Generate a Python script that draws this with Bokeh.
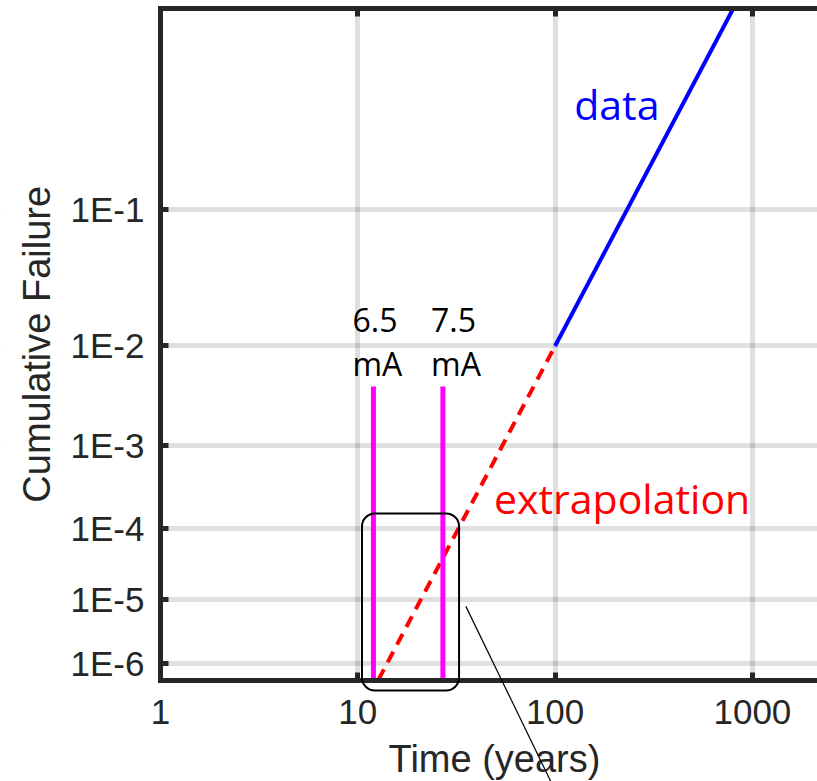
import math
from bokeh.plotting import figure
from bokeh.models import (FixedTicker, LogAxis, LinearAxis, Label, BoxAnnotation,
                          Arrow, Range1d)
from bokeh.embed import file_html
from bokeh.resources import INLINE

# ---------------- data ----------------
data_t = [100, 800]              # years
data_F = [0.01, 0.6]             # cumulative failure
extrap_t = [12.7, 100]
extrap_F = [5.3e-7, 0.01]
current_t = [12.0, 27.0]         # 6.5 mA, 7.5 mA
current_labels = ["6.5\nmA", "7.5\nmA"]
current_top_F = 0.0042
y_tick_F = [1e-6, 1e-5, 1e-4, 1e-3, 1e-2, 1e-1]
y_tick_labels = ["1E-6", "1E-5", "1E-4", "1E-3", "1E-2", "1E-1"]
x_ticks = [1, 10, 100, 1000]
F_min, F_max = 5.3e-7, 0.6
t_min = 1


def probit(p):
    """inverse standard normal CDF (bisection on erfc)"""
    lo, hi = -12.0, 12.0
    for _ in range(200):
        mid = 0.5 * (lo + hi)
        if 0.5 * math.erfc(-mid / math.sqrt(2)) < p:
            lo = mid
        else:
            hi = mid
    return 0.5 * (lo + hi)


AX = "#262626"
TICK_FONT = "Liberation Sans"
NOTE_FONT = "Open Sans"

# ---------------- layout (pixels) ----------------
W, H = 817, 781
TOP = 8            # top edge of the axes box
AXIS_Y_PX = 679.5  # time axis
AXIS_X_PX = 160    # failure axis
DEC_PX = 197.3     # pixels per decade of time

y_top = probit(F_max)
y_axis = probit(F_min)
PU = (AXIS_Y_PX - TOP) / (y_top - y_axis)   # pixels per probit unit


def t_px(px):
    return t_min * 10 ** ((px - AXIS_X_PX) / DEC_PX)


def y_px(px):
    return y_top - (px - TOP) / PU


p = figure(width=W, height=H, x_axis_type="log", x_axis_location=None,
           y_axis_location=None,
           x_range=Range1d(t_px(0), t_px(W)),
           y_range=Range1d(y_px(H), y_top),
           output_backend="svg", toolbar_location=None,
           min_border_left=0, min_border_right=0,
           min_border_top=TOP, min_border_bottom=0)
p.outline_line_color = None
p.background_fill_color = "white"
p.border_fill_color = "white"

y_ticks = [probit(f) for f in y_tick_F]


def style(ax, label_size="35px"):
    ax.axis_line_width = 5
    ax.axis_line_color = AX
    ax.axis_line_cap = "square"
    ax.major_tick_in = 8
    ax.major_tick_out = 0
    ax.major_tick_line_width = 5
    ax.major_tick_line_color = AX
    ax.minor_tick_line_color = None
    ax.major_label_text_font = TICK_FONT
    ax.major_label_text_font_size = label_size
    ax.major_label_text_color = AX


# grids
p.xgrid.ticker = FixedTicker(ticks=x_ticks)
p.ygrid.ticker = FixedTicker(ticks=y_ticks)
for g in (p.xgrid[0], p.ygrid[0]):
    g.grid_line_color = AX
    g.grid_line_alpha = 0.15
    g.grid_line_width = 5

# blank the area outside the axes box (grid lines stop at the axes)
p.add_layout(BoxAnnotation(top=y_axis, bottom=y_px(H + 40),
                           left=t_px(-40), right=t_px(W + 40),
                           fill_color="white", fill_alpha=1,
                           line_color=None, level="glyph"))
p.add_layout(BoxAnnotation(left=t_px(-40), right=t_min,
                           top=y_top, bottom=y_px(H + 40),
                           fill_color="white", fill_alpha=1,
                           line_color=None, level="glyph"))

xax = LogAxis(ticker=FixedTicker(ticks=x_ticks), fixed_location=y_axis,
              bounds=(t_min, t_px(W)))
style(xax)
xax.major_label_overrides = {t: str(t) for t in x_ticks}
xax.major_label_standoff = 20
p.add_layout(xax, "below")

yax = LinearAxis(ticker=FixedTicker(ticks=y_ticks), fixed_location=t_min,
                 bounds=(y_axis, y_top))
style(yax)
yax.major_label_overrides = dict(zip(y_ticks, y_tick_labels))
yax.major_label_standoff = 16
p.add_layout(yax, "left")

top = LogAxis(ticker=FixedTicker(ticks=x_ticks), bounds=(t_min, t_px(W)))
style(top, "1px")
top.major_label_text_alpha = 0
top.major_label_standoff = 0
p.add_layout(top, "above")

# axis titles
p.add_layout(Label(x=t_px(494), y=y_px(737.6), text="Time (years)",
                   text_font=TICK_FONT, text_font_size="38px", text_color=AX,
                   text_align="center", text_baseline="top"))
p.add_layout(Label(x=t_px(36), y=(y_axis + y_top) / 2, text="Cumulative Failure",
                   text_font=TICK_FONT, text_font_size="38px", text_color=AX,
                   text_align="center", text_baseline="middle",
                   angle=math.pi / 2))

# lines
p.line(data_t, [probit(f) for f in data_F], line_color="#0000ff", line_width=4)
p.line(extrap_t, [probit(f) for f in extrap_F], line_color="#ff0000",
       line_width=4, line_dash="12 8")
p.segment(x0=current_t, y0=[y_axis] * 2, x1=current_t,
          y1=[probit(current_top_F)] * 2, line_color="#ff00ff", line_width=5)

# notes
p.add_layout(Label(x=125, y=probit(0.395), text="data", text_color="#0000ff",
                   text_font=NOTE_FONT, text_font_size="41px",
                   text_baseline="top"))
p.add_layout(Label(x=49, y=probit(5.35e-4), text="extrapolation",
                   text_color="#ff0000", text_font=NOTE_FONT,
                   text_font_size="41px", text_baseline="top"))
for t_lab, txt in zip([9.4, 23.5], current_labels):
    p.add_layout(Label(x=t_lab, y=probit(0.0251), text=txt, text_color="black",
                       text_font=NOTE_FONT, text_font_size="32px",
                       text_line_height=1.03, text_baseline="top"))

# highlight box and callout
p.add_layout(BoxAnnotation(left=10.5, right=32.6, top=probit(1.55e-4),
                           bottom=probit(3.5e-7), fill_color=None, fill_alpha=0,
                           line_color="black", line_alpha=1, line_width=2,
                           border_radius=13, level="overlay"))
p.add_layout(Arrow(end=None, x_start=35.3, y_start=probit(7.9e-6),
                   x_end=95.5, y_end=probit(7.5e-9),
                   line_color="black", line_width=1.2, level="overlay"))

open("out.html", "w").write(file_html(p, INLINE))
